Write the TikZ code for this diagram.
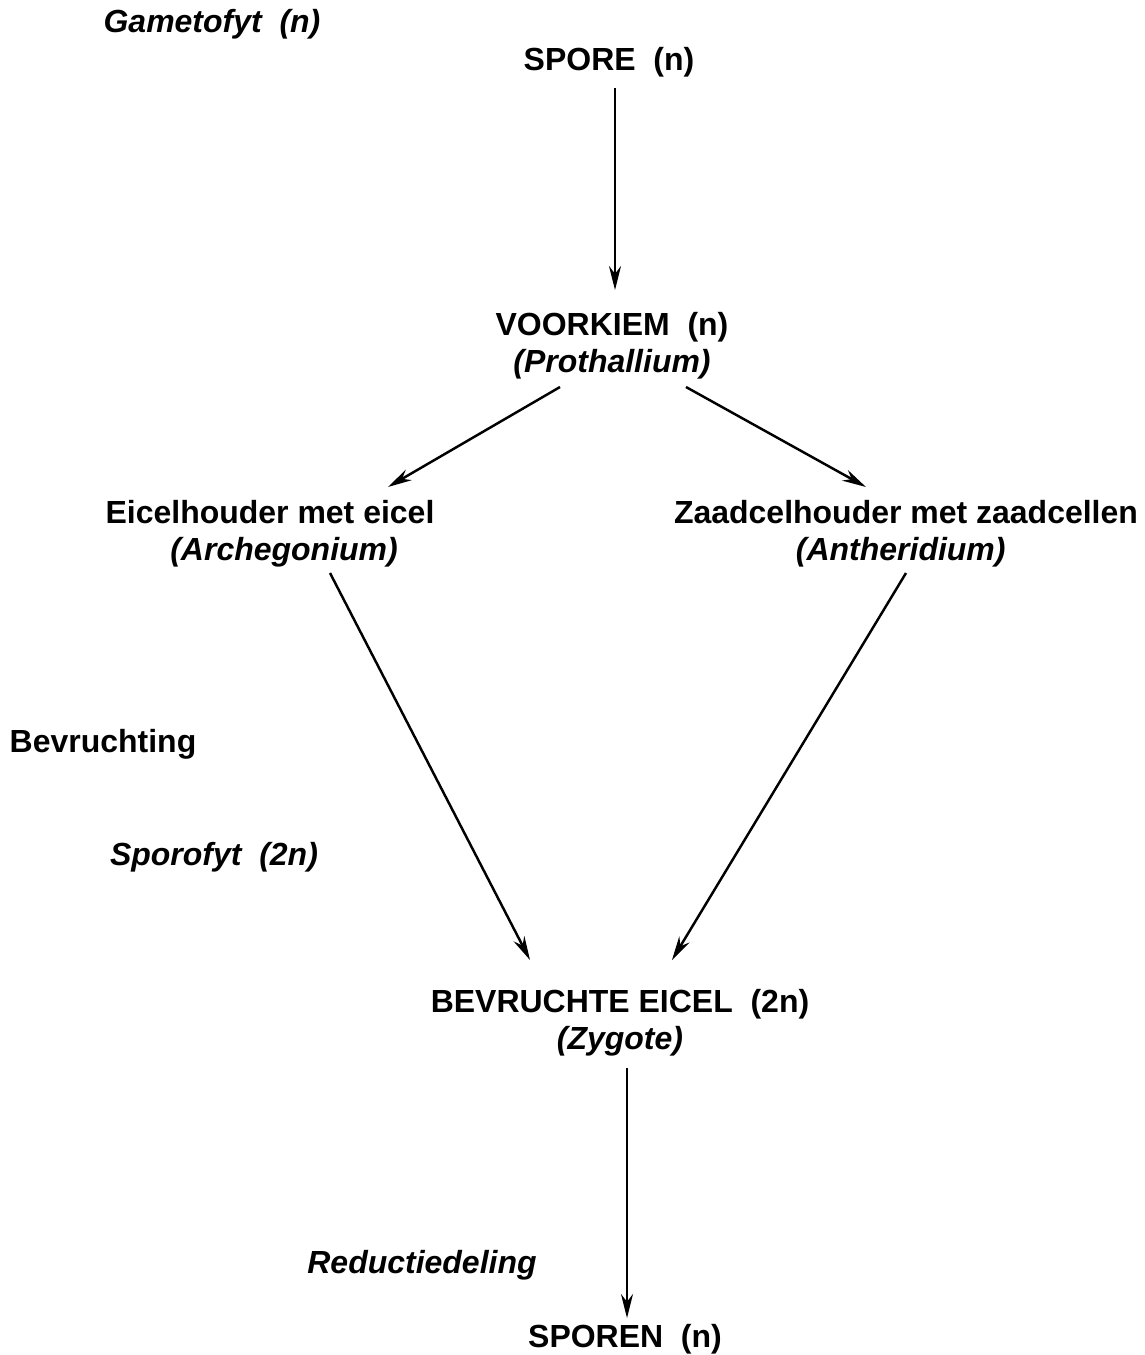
\documentclass[tikz,border=0pt]{standalone}
\usepackage{fontspec}
\setmainfont{Liberation Sans}
\usetikzlibrary{arrows.meta}

\begin{document}
\begin{tikzpicture}[x=0.1mm, y=-0.1mm,
    every node/.style={inner sep=0pt, align=center, font=\fontsize{9.1pt}{10.6pt}\selectfont\bfseries},
    zij/.style={font=\fontsize{9.1pt}{10.6pt}\selectfont\bfseries\itshape},
    pijl/.style={-{Stealth[length=2.4mm,width=1.2mm]}, line width=0.7pt}]
        \useasboundingbox (0,0) rectangle (1145,1355);
        % fasen en stappen aan de zijkant
        \node [zij] (gametofyt) at (212,24) {Gametofyt\ \ (n)};
        \node (bevruchting) at (103,744) {Bevruchting};
        \node [zij] (sporofyt) at (214,857) {Sporofyt\ \ (2n)};
        \node [zij] (reductie) at (422,1265) {Reductiedeling};
        % de cyclus
        \node (spore) at (609,62) {SPORE\ \ (n)};
        \node (voorkiem) at (612,346) {VOORKIEM\ \ (n)\\\textit{(Prothallium)}};
        \node (eicel) at (270,534) {Eicelhouder met eicel\\\hspace*{8pt}\textit{(Archegonium)}};
        \node (zaad) at (906,534) {Zaadcelhouder met zaadcellen\\\textit{(Antheridium)}\hspace*{3pt}};
        \node (zygote) at (620,1023) {BEVRUCHTE EICEL\ \ (2n)\\\textit{(Zygote)}};
        \node (sporen) at (625,1339) {SPOREN\ \ (n)};
        \draw [pijl] ([shift={(6,26)}]spore.center) -- ([shift={(3,-56)}]voorkiem.center);
        \draw [pijl] ([shift={(-52,41)}]voorkiem.center) -- ([shift={(118,-47)}]eicel.center);
        \draw [pijl] ([shift={(74,41)}]voorkiem.center) -- ([shift={(-40,-47)}]zaad.center);
        \draw [pijl] ([shift={(60,39)}]eicel.center) -- ([shift={(-90,-63)}]zygote.center);
        \draw [pijl] ([shift={(0,39)}]zaad.center) -- ([shift={(52,-63)}]zygote.center);
        \draw [pijl] ([shift={(7,45)}]zygote.center) -- ([shift={(2,-21)}]sporen.center);
\end{tikzpicture}
\end{document}
